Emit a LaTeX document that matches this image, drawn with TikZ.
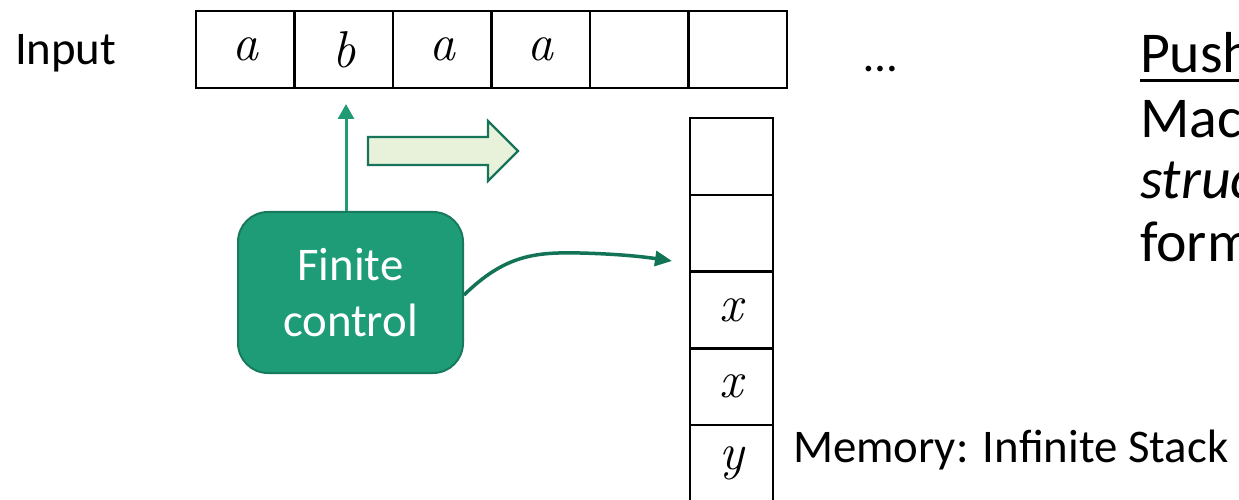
\documentclass[tikz,border=0pt]{standalone}
\usepackage{fontspec}
\setmainfont{Carlito}
\usetikzlibrary{arrows.meta}
\newcommand\mathletter[1]{{\fontfamily{lmr}\fontshape{it}\selectfont #1}}
\definecolor{fcfill}{RGB}{30,156,120}
\definecolor{fcborder}{RGB}{24,122,92}
\definecolor{upcol}{RGB}{34,154,118}
\definecolor{curvecol}{RGB}{19,115,87}
\definecolor{blockfill}{RGB}{232,242,218}
\definecolor{blockborder}{RGB}{23,115,90}
\begin{document}
\begin{tikzpicture}[x=1bp,y=-1bp,
  tapecell/.style={draw=black,line width=2.2bp,minimum width=98.5bp,minimum height=77bp,inner sep=0pt,outer sep=0pt,anchor=north west,font=\fontsize{52}{52}\selectfont},
  stackcell/.style={draw=black,line width=2.2bp,minimum width=83bp,minimum height=77bp,inner sep=0pt,outer sep=0pt,anchor=north west,font=\fontsize{52}{52}\selectfont},
  lbl/.style={inner sep=0pt,outer sep=0pt,anchor=base west,font=\fontsize{47}{57}\selectfont},
  bigtxt/.style={inner sep=0pt,outer sep=0pt,anchor=base west,font=\fontsize{58}{65}\selectfont},
  fcbox/.style={draw=fcborder,fill=fcfill,line width=2bp,rounded corners=30bp,minimum width=225bp,minimum height=161bp,text=white,align=center,font=\fontsize{47}{57}\selectfont}
]
\useasboundingbox (0,0) rectangle (1239,500);
\clip (0,0) rectangle (1239,500);
% input tape
\node[tapecell] (c1) at (196,11) {\mathletter{a}};
\node[tapecell] (c2) at (294.5,11) {\mathletter{b}};
\node[tapecell] (c3) at (393,11) {\mathletter{a}};
\node[tapecell] (c4) at (491.5,11) {\mathletter{a}};
\node[tapecell] (c5) at (590,11) {};
\node[tapecell] (c6) at (688.5,11) {};
\node[lbl] (inp) at (15,65) {Input};
\node[lbl] (dots) at (864,72) {…};
% stack
\node[stackcell] (s1) at (690,118) {};
\node[stackcell] (s2) at (690,195) {};
\node[stackcell] (s3) at (690,271.5) {\mathletter{x}};
\node[stackcell] (s4) at (690,348) {\mathletter{x}};
\node[stackcell] (s5) at (690,425) {\mathletter{y}};
\node[lbl] (mem) at (793,462) {Memory: Infinite Stack};
% finite control
\node[fcbox] (fc) at (350.5,292.5) {Finite\\control};
\coordinate (uptip) at (346,104);
\draw[upcol,line width=3bp,-{Triangle[width=16bp,length=15bp]}] (fc.north -| uptip) -- (uptip);
\coordinate (stk) at (672,261);
\draw[curvecol,line width=3.5bp,-{Triangle[width=15bp,length=17bp]}] (fc.east |- 0,295) .. controls (505,255) and (535,252) .. (580,253) .. controls (620,254) and (645,257) .. (stk);
% block arrow
\draw[draw=blockborder,fill=blockfill,line width=2.2bp] (368,137) -- (488,137) -- (488,121) -- (518,151) -- (488,181) -- (488,165) -- (368,165) -- cycle;
% right text
\node[bigtxt] (t1) at (1140,73) {Push};
\draw[black,line width=3bp] (1140,81) -- (1239,81);
\node[bigtxt] (t2) at (1140,137.5) {Mac};
\node[bigtxt] (t3) at (1140,199) {\itshape struc};
\node[bigtxt] (t4) at (1140,262) {form};
\end{tikzpicture}
\end{document}
